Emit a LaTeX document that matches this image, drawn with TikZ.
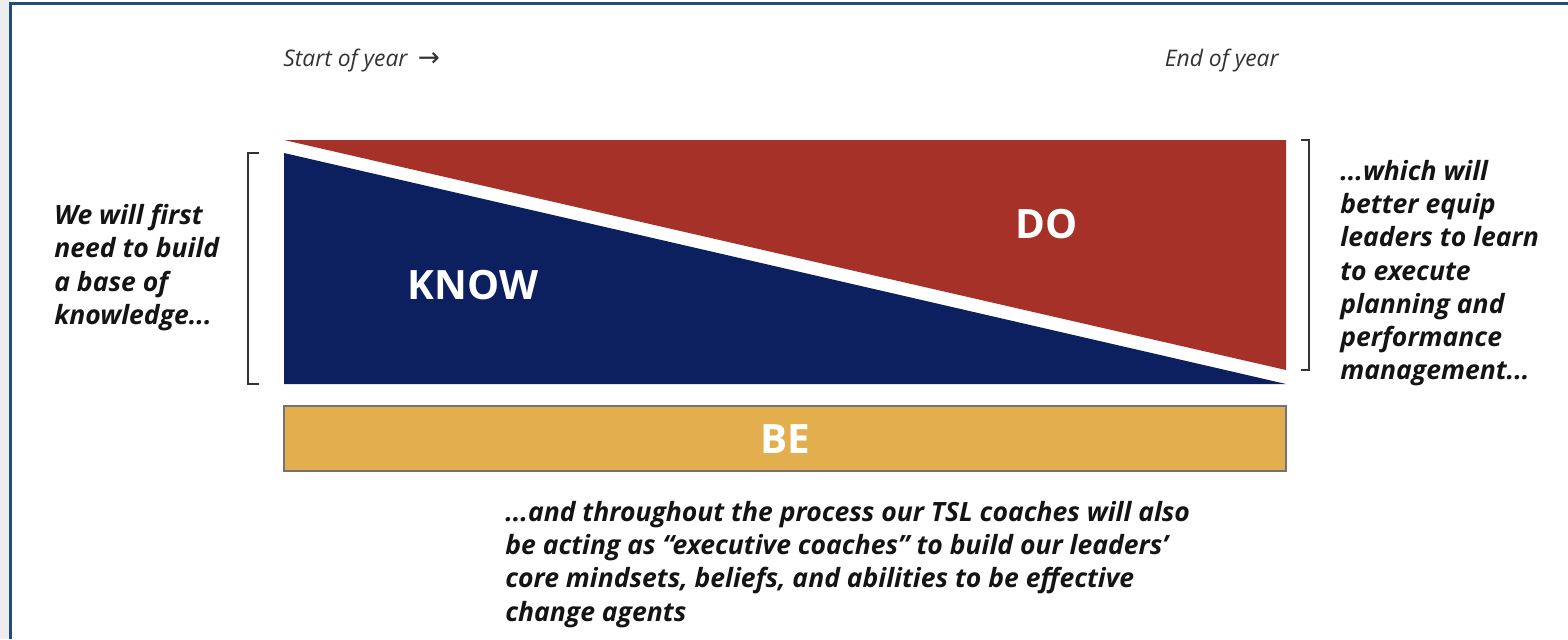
\documentclass[tikz,border=0pt]{standalone}
\usepackage{fontspec}
\setmainfont{Open Sans}
\newfontfamily\arrowfont{DejaVu Sans}
\usetikzlibrary{positioning}
\definecolor{knowblue}{HTML}{0C1F5F}
\definecolor{dored}{HTML}{A63128}
\definecolor{begold}{HTML}{E3AF4E}
\definecolor{frameblue}{HTML}{1F4E79}

\begin{document}
\begin{tikzpicture}[x=0.02cm,y=-0.02cm,
    note/.style={inner sep=0pt,align=left,font=\fontsize{15.1}{18.9}\selectfont\bfseries\itshape,text=black!92},
    yearlabel/.style={inner sep=0pt,font=\fontsize{13}{15}\selectfont\itshape,text=black!80},
    bigword/.style={inner sep=0pt,font=\fontsize{23}{27}\selectfont\bfseries,text=white},
    bracket/.style={draw=black!80,line width=1.6pt}]

    \useasboundingbox (0,0) rectangle (1568,639);

    % frame of the slide
    \fill[black!7] (0,0) rectangle (10,639);
    \draw[frameblue,line width=1.2pt] (10.5,639) -- (10.5,3.5) -- (1568,3.5);

    \coordinate(TL) at (284,140);
    \coordinate(TR) at (1286,140);
    \coordinate(BL) at (284,384);
    \coordinate(BR) at (1286,384);

    % know and do wedges
    \fill[dored] (TL) -- (TR) -- (1286,370) -- cycle;
    \fill[knowblue] (284,153) -- (BR) -- (BL) -- cycle;

    % be bar
    \draw[fill=begold,draw=black!55,line width=0.8pt] (284,406) rectangle (1286,471);

    % brackets
    \draw[bracket] (259,153) -- (248,153) -- (248,384) -- (259,384);
    \draw[bracket] (1301,140) -- (1309,140) -- (1309,370) -- (1301,370);

    \node[bigword] (know) at (473,285) {KNOW};
    \node[bigword] (do) at (1047,224) {DO};
    \node[bigword] (be) at (785,439) {BE};

    \node[yearlabel,anchor=north west] (start) at (283,49) {Start of year\hspace{0.45em}{\arrowfont\fontsize{15}{15}\selectfont →}};
    \node[yearlabel,anchor=north east] (end) at (1279,49) {End of year};

    \node[note,anchor=north west] (first) at (54,204) {We will first\\need to build\\a base of\\knowledge...};
    \node[note,anchor=north west] (which) at (1340,160) {...which will\\better equip\\leaders to learn\\to execute\\planning and\\performance\\management...};
    \node[note,anchor=north west] (coach) at (505,501) {...and throughout the process our TSL coaches will also\\be acting as “executive coaches” to build our leaders’\\core mindsets, beliefs, and abilities to be effective\\change agents};

\end{tikzpicture}
\end{document}
